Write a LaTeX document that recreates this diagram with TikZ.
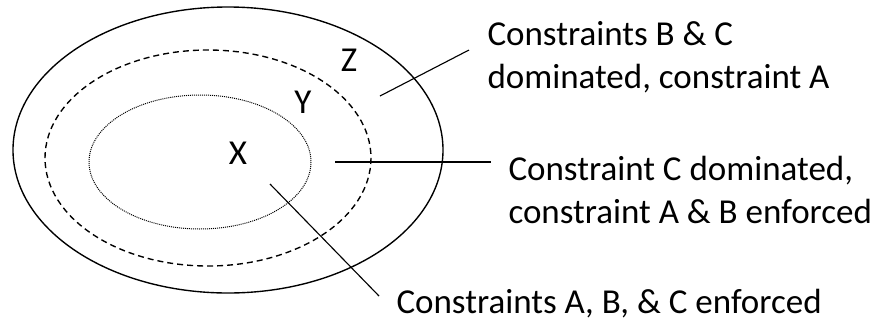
\documentclass[tikz,border=0pt]{standalone}
\usepackage{fontspec}
\setmainfont{Carlito}
\usetikzlibrary{positioning,calc}
\tikzset{
  mnozina/.style={line width=0.55pt},
  popis/.style={font=\fontsize{14}{17.2}\selectfont,inner sep=0pt,align=left},
  oblast/.style={font=\fontsize{14}{17.2}\selectfont,inner sep=0pt},
  vodic/.style={line width=0.45pt},
}

\begin{document}
\begin{tikzpicture}[x=0.4pt,y=-0.4pt]
  \useasboundingbox (0,0) rectangle (882,321);
  % mnoziny
  \draw[mnozina] (228,150) ellipse [x radius=215,y radius=143];
  \draw[mnozina,dash pattern=on 2.4pt off 1.6pt] (208,158) ellipse [x radius=163,y radius=108];
  \draw[mnozina,line width=0.4pt,dash pattern=on 0.4pt off 0.4pt] (200,162) ellipse [x radius=111,y radius=67];
  \node[oblast] (z) at (349,60) {Z};
  \node[oblast] (y) at (303,102) {Y};
  \node[oblast] (x) at (238,153) {X};
  % popisky
  \node[popis,anchor=base west] (bc) at (487,88) {Constraints B \& C\\dominated, constraint A};
  \node[popis,anchor=base west] (c) at (508,223) {Constraint C dominated,\\constraint A \& B enforced};
  \node[popis,anchor=base west] (abc) at (396,313) {Constraints A, B, \& C enforced};
  \coordinate (pz) at (380,96); \coordinate (kz) at (469,50);
  \coordinate (py) at (335,162); \coordinate (ky) at (491,162);
  \coordinate (px) at (270,184); \coordinate (kx) at (379,296);
  \draw[vodic] (pz)--(kz); \draw[vodic] (py)--(ky);
  \draw[vodic] (px)--(kx);
\end{tikzpicture}
\end{document}
